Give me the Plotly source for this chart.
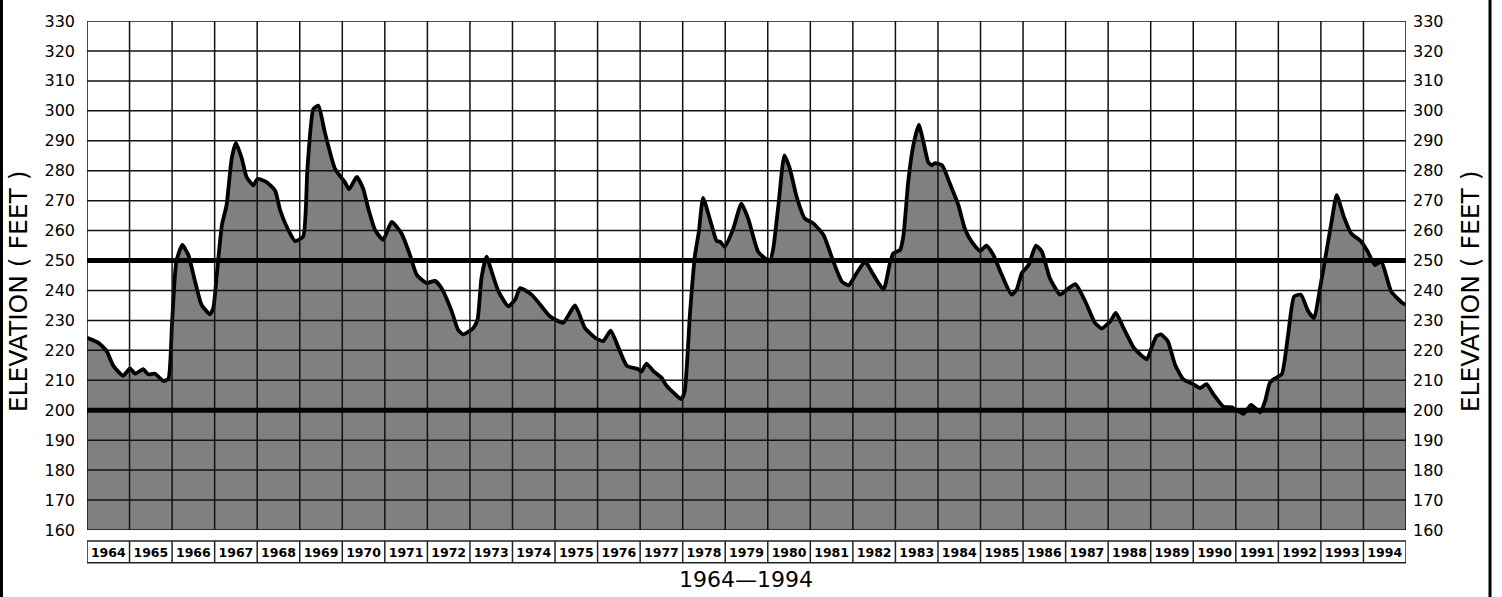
import plotly.graph_objects as go

# ---- data ----
time_dec = [
    1964.00, 1964.27, 1964.46, 1964.62, 1964.85, 1965.01, 1965.13, 1965.32, 1965.44, 1965.60,
    1965.79, 1965.91, 1966.00, 1966.10, 1966.24, 1966.38, 1966.54, 1966.69, 1966.89, 1966.97,
    1967.05, 1967.17, 1967.28, 1967.40, 1967.50, 1967.64, 1967.75, 1967.91, 1968.01, 1968.22,
    1968.42, 1968.54, 1968.73, 1968.89, 1969.08, 1969.18, 1969.32, 1969.44, 1969.59, 1969.83,
    1970.06, 1970.16, 1970.34, 1970.49, 1970.61, 1970.77, 1970.96, 1971.16, 1971.39, 1971.59,
    1971.75, 1971.98, 1972.18, 1972.33, 1972.57, 1972.72, 1972.84, 1973.08, 1973.18, 1973.27,
    1973.39, 1973.51, 1973.67, 1973.90, 1974.06, 1974.18, 1974.45, 1974.65, 1974.88, 1975.19,
    1975.47, 1975.70, 1975.94, 1976.13, 1976.31, 1976.49, 1976.69, 1976.96, 1977.03, 1977.15,
    1977.31, 1977.50, 1977.62, 1977.82, 1977.97, 1978.05, 1978.17, 1978.29, 1978.38, 1978.48,
    1978.68, 1978.80, 1978.88, 1978.99, 1979.19, 1979.38, 1979.54, 1979.77, 1979.93, 1980.05,
    1980.13, 1980.25, 1980.39, 1980.52, 1980.68, 1980.87, 1981.07, 1981.31, 1981.54, 1981.74,
    1981.90, 1982.09, 1982.29, 1982.44, 1982.72, 1982.87, 1982.95, 1983.11, 1983.19, 1983.30,
    1983.42, 1983.55, 1983.65, 1983.77, 1983.85, 1983.93, 1984.10, 1984.28, 1984.48, 1984.63,
    1984.79, 1984.99, 1985.14, 1985.30, 1985.50, 1985.73, 1985.85, 1985.97, 1986.13, 1986.30,
    1986.44, 1986.63, 1986.87, 1987.03, 1987.23, 1987.46, 1987.69, 1987.85, 1988.05, 1988.18,
    1988.36, 1988.60, 1988.75, 1988.91, 1989.02, 1989.14, 1989.24, 1989.40, 1989.57, 1989.76,
    1990.00, 1990.16, 1990.31, 1990.47, 1990.71, 1990.91, 1991.18, 1991.36, 1991.57, 1991.69,
    1991.80, 1991.92, 1992.08, 1992.23, 1992.37, 1992.53, 1992.70, 1992.84, 1992.98, 1993.13,
    1993.25, 1993.37, 1993.54, 1993.71, 1993.95, 1994.10, 1994.27, 1994.42, 1994.65, 1994.92,
    1995.00,
]
elevation_ft = [
    224.2, 222.5, 219.8, 214.8, 211.5, 214.0, 212.2, 213.7, 212.0, 212.2,
    209.8, 210.4, 229.7, 249.7, 255.2, 251.9, 243.0, 235.3, 232.0, 234.2,
    245.2, 261.8, 268.5, 284.0, 289.3, 284.0, 277.9, 275.1, 277.3, 276.2,
    273.4, 266.8, 260.2, 256.5, 258.0, 280.6, 300.6, 301.7, 292.8, 280.6,
    276.2, 273.8, 277.9, 274.0, 267.4, 260.2, 256.9, 262.9, 259.1, 251.9,
    245.2, 242.5, 243.2, 240.8, 233.1, 226.9, 225.3, 227.5, 230.3, 244.1,
    251.3, 246.3, 239.7, 234.7, 236.9, 240.8, 238.6, 235.3, 231.4, 229.2,
    235.0, 227.5, 224.2, 223.1, 226.6, 220.9, 214.8, 213.7, 212.9, 215.6,
    213.1, 210.9, 208.2, 205.4, 203.7, 206.5, 232.0, 251.9, 259.6, 270.9,
    261.8, 256.5, 256.3, 254.6, 260.7, 269.0, 264.0, 253.0, 250.8, 249.7,
    254.1, 268.5, 285.1, 280.6, 271.2, 264.0, 262.4, 258.5, 249.7, 243.0,
    241.7, 245.8, 249.7, 246.3, 240.3, 249.1, 252.4, 253.5, 258.5, 276.2,
    288.4, 295.3, 290.1, 282.9, 281.8, 282.5, 281.8, 275.7, 268.5, 260.7,
    256.3, 253.2, 255.0, 251.9, 245.2, 238.6, 240.3, 245.8, 248.5, 255.0,
    253.0, 244.1, 238.6, 240.3, 242.1, 236.4, 229.2, 227.3, 229.7, 232.5,
    227.5, 220.9, 218.7, 217.0, 220.9, 224.8, 225.3, 223.1, 215.3, 210.4,
    208.7, 207.4, 208.7, 205.4, 201.2, 201.0, 198.8, 201.8, 199.3, 203.1,
    209.2, 210.6, 212.0, 225.3, 238.0, 238.6, 233.1, 230.8, 240.8, 253.0,
    262.9, 271.8, 264.6, 259.1, 256.3, 253.0, 248.5, 249.7, 239.7, 235.8,
    235.2,
]
year_labels = [str(y) for y in range(1964, 1995)]
reference_levels = [200, 250]
y_ticks = list(range(160, 331, 10))

# ---- figure ----
X0, X1 = 1964, 1995
Y0, Y1 = 160, 330
FONT = "DejaVu Sans"
PW, PH = 1319, 512  # plot area size in px

fig = go.Figure()
fig.add_trace(go.Scatter(
    x=time_dec, y=elevation_ft, mode="lines",
    line=dict(color="black", width=3.8, shape="spline", smoothing=0.5),
    fill="tozeroy", fillcolor="#808080", hoverinfo="skip", showlegend=False,
))
# invisible copy so the right-hand axis renders
fig.add_trace(go.Scatter(
    x=time_dec, y=elevation_ft, mode="lines", yaxis="y2",
    line=dict(color="rgba(0,0,0,0)", width=0), hoverinfo="skip", showlegend=False,
))

shapes = []
for yr in range(X0, X1 + 1):
    shapes.append(dict(type="line", xref="x", yref="y", x0=yr, x1=yr, y0=Y0, y1=Y1,
                       line=dict(color="#111", width=1.5), layer="above"))
for v in y_ticks:
    shapes.append(dict(type="line", xref="x", yref="y", x0=X0, x1=X1, y0=v, y1=v,
                       line=dict(color="#111", width=1.5), layer="above"))
for v in reference_levels:
    shapes.append(dict(type="line", xref="x", yref="y", x0=X0, x1=X1, y0=v, y1=v,
                       line=dict(color="black", width=5), layer="above"))
# year label boxes
BOX_TOP, BOX_BOT = -11 / PH, -33 / PH
shapes.append(dict(type="rect", xref="x", yref="paper", x0=X0, x1=X1, y0=BOX_BOT, y1=BOX_TOP,
                   line=dict(color="#222", width=1.5), fillcolor="rgba(0,0,0,0)", layer="above"))
for yr in range(X0 + 1, X1):
    shapes.append(dict(type="line", xref="x", yref="paper", x0=yr, x1=yr, y0=BOX_BOT, y1=BOX_TOP,
                       line=dict(color="#222", width=1.5), layer="above"))
# page frame lines left/right (full height)
for px in (-85.5 / PW, 1403 / PW):
    shapes.append(dict(type="line", xref="paper", yref="paper", x0=px, x1=px,
                       y0=-70 / PH, y1=(PH + 22) / PH,
                       line=dict(color="black", width=3), layer="above"))

annotations = [
    dict(text="ELEVATION ( FEET )", xref="paper", yref="paper", x=-69 / PW, y=0.469,
         textangle=-90, showarrow=False, font=dict(family=FONT, size=25, color="black"),
         xanchor="center", yanchor="middle"),
    dict(text="ELEVATION ( FEET )", xref="paper", yref="paper", x=1383 / PW, y=0.469,
         textangle=-90, showarrow=False, font=dict(family=FONT, size=25, color="black"),
         xanchor="center", yanchor="middle"),
    dict(text="1964\u20141994", xref="paper", yref="paper", x=0.4996, y=-50 / PH,
         showarrow=False, font=dict(family=FONT, size=22, color="black"),
         xanchor="center", yanchor="middle"),
]

fig.update_layout(
    width=1502, height=597,
    margin=dict(l=87, r=96, t=18, b=67),
    paper_bgcolor="white", plot_bgcolor="white",
    shapes=shapes, annotations=annotations,
    xaxis=dict(range=[X0, X1], tickvals=[y + 0.5 for y in range(1964, 1995)], ticktext=year_labels,
               showgrid=False, zeroline=False, showline=False, ticks="",
               ticklabelstandoff=13,
               tickfont=dict(family=FONT, size=12.5, color="black", weight="bold")),
    yaxis=dict(range=[Y0, Y1], tickvals=y_ticks, showgrid=False, zeroline=False, showline=False,
               ticks="", ticklabelstandoff=11,
               tickfont=dict(family=FONT, size=16, color="black")),
    yaxis2=dict(range=[Y0, Y1], tickvals=y_ticks, overlaying="y", side="right", showgrid=False,
                zeroline=False, showline=False, ticks="", ticklabelstandoff=6,
                tickfont=dict(family=FONT, size=16, color="black")),
)

fig.write_html("out.html", config={"displayModeBar": False},
               post_script="document.body.style.margin='0';document.body.style.overflow='hidden';")
